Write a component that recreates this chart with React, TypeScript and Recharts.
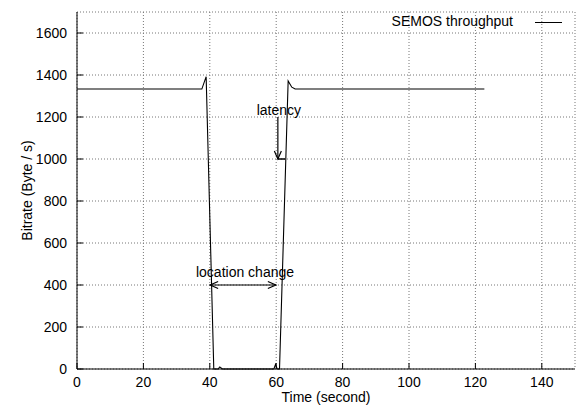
import { LineChart, Line, XAxis, YAxis, CartesianGrid, ReferenceLine } from "recharts";

// SEMOS throughput trace
const timeSec = [0, 37.6, 38.9, 41.2, 42.5, 43, 43.8, 59.3, 59.8, 60.3, 61.0, 63.6, 64.7, 65.7, 122.7];
const bitrate = [1333, 1333, 1392, 0, 0, 10, 0, 0, 22, 0, 0, 1372, 1342, 1333, 1333];

const xTicks = [0, 20, 40, 60, 80, 100, 120, 140];
const yTicks = [0, 200, 400, 600, 800, 1000, 1200, 1400, 1600];

// annotations (data coords)
const latencyArrow = { x: 60.5, from: 1200, to: 1000, barTo: 62.7 };
const locationArrow = { y: 400, from: 40.1, to: 59.9 };

const data = timeSec.map((t, i) => ({ t, v: bitrate[i] }));

const FONT = "'Liberation Sans', Arial, Helvetica, sans-serif";

function head(x: number, y: number, dx: number, dy: number) {
  // open gnuplot-ish arrow head pointing in direction (dx, dy)
  const len = 8;
  const spread = 3.5;
  const bx = x - dx * len;
  const by = y - dy * len;
  const px = -dy * spread;
  const py = dx * spread;
  return (
    <path
      d={`M${bx + px},${by + py} L${x},${y} L${bx - px},${by - py}`}
      fill="none"
      stroke="#000"
      strokeWidth={1.2}
    />
  );
}

function LatencyShape(props: any) {
  const { x1, y1, x2, y2 } = props;
  return (
    <g>
      <line x1={x1} y1={y1} x2={x2} y2={y2} stroke="#000" strokeWidth={1.2} />
      {head(x2, y2, 0, 1)}
      <text x={x1 + 1} y={y1 - 2} textAnchor="middle" fontFamily={FONT} fontSize={14} fill="#000">
        latency
      </text>
    </g>
  );
}

function BarShape(props: any) {
  const { x1, y1, x2, y2 } = props;
  return <line x1={x1} y1={y1} x2={x2} y2={y2} stroke="#000" strokeWidth={1.5} />;
}

function LocationShape(props: any) {
  const { x1, y1, x2, y2 } = props;
  return (
    <g>
      <line x1={x1} y1={y1} x2={x2} y2={y2} stroke="#000" strokeWidth={1.2} />
      {head(x2, y2, 1, 0)}
      {head(x1, y1, -1, 0)}
      <text x={(x1 + x2) / 2 + 2} y={y1 - 8} textAnchor="middle" fontFamily={FONT} fontSize={14} fill="#000">
        location change
      </text>
    </g>
  );
}

const tickStyle = { fill: "#000", fontSize: 14, fontFamily: FONT };

export default function App() {
  return (
    <div style={{ position: "absolute", left: 0, top: 0, width: 581, height: 405, background: "#fff" }}>
      <LineChart width={581} height={405} data={data} margin={{ top: 12, right: 6, bottom: 0, left: 0 }}>
        <CartesianGrid stroke="#777" strokeDasharray="1 2" />
        <XAxis
          dataKey="t"
          type="number"
          domain={[0, 150]}
          ticks={xTicks}
          interval={0}
          height={36}
          tick={tickStyle}
          tickSize={-6}
          tickMargin={14}
          stroke="#000"
          tickLine={{ stroke: "#000" }}
          label={{
            content: ({ viewBox }: any) => (
              <text x={viewBox.x + viewBox.width / 2} y={viewBox.y + 33} textAnchor="middle" fontFamily={FONT} fontSize={14} fill="#000">
                Time (second)
              </text>
            ),
          }}
        />
        <XAxis
          xAxisId="top"
          orientation="top"
          type="number"
          domain={[0, 150]}
          ticks={xTicks}
          interval={0}
          height={0}
          tick={false}
          tickSize={-6}
          stroke="#000"
        />
        <YAxis
          type="number"
          domain={[0, 1700]}
          ticks={yTicks}
          interval={0}
          width={77}
          tick={tickStyle}
          tickSize={-6}
          tickMargin={16}
          stroke="#000"
          label={{
            content: ({ viewBox }: any) => {
              const cx = viewBox.x + 27;
              const cy = viewBox.y + viewBox.height / 2;
              return (
                <text x={cx} y={cy} transform={`rotate(-90 ${cx} ${cy})`} textAnchor="middle" dominantBaseline="central" fontFamily={FONT} fontSize={14} fill="#000">
                  Bitrate (Byte / s)
                </text>
              );
            },
          }}
        />
        <YAxis
          yAxisId="right"
          orientation="right"
          type="number"
          domain={[0, 1700]}
          ticks={yTicks}
          interval={0}
          width={0}
          tick={false}
          tickSize={-6}
          stroke="#000"
        />
        <ReferenceLine
          segment={[
            { x: latencyArrow.x, y: latencyArrow.from },
            { x: latencyArrow.x, y: latencyArrow.to },
          ]}
          shape={LatencyShape}
        />
        <ReferenceLine
          segment={[
            { x: latencyArrow.x, y: latencyArrow.to },
            { x: latencyArrow.barTo, y: latencyArrow.to },
          ]}
          shape={BarShape}
        />
        <ReferenceLine
          segment={[
            { x: locationArrow.from, y: locationArrow.y },
            { x: locationArrow.to, y: locationArrow.y },
          ]}
          shape={LocationShape}
        />
        <Line
          type="linear"
          dataKey="v"
          stroke="#000"
          strokeWidth={1.1}
          dot={false}
          isAnimationActive={false}
        />
      </LineChart>
      <div
        style={{
          position: "absolute",
          right: 581 - 513,
          top: 12,
          fontFamily: FONT,
          fontSize: 14,
          lineHeight: "18px",
          color: "#000",
          whiteSpace: "nowrap",
        }}
      >
        SEMOS throughput
      </div>
      <div style={{ position: "absolute", left: 535, top: 22, width: 27, height: 0, borderTop: "1px solid #000" }} />
    </div>
  );
}
